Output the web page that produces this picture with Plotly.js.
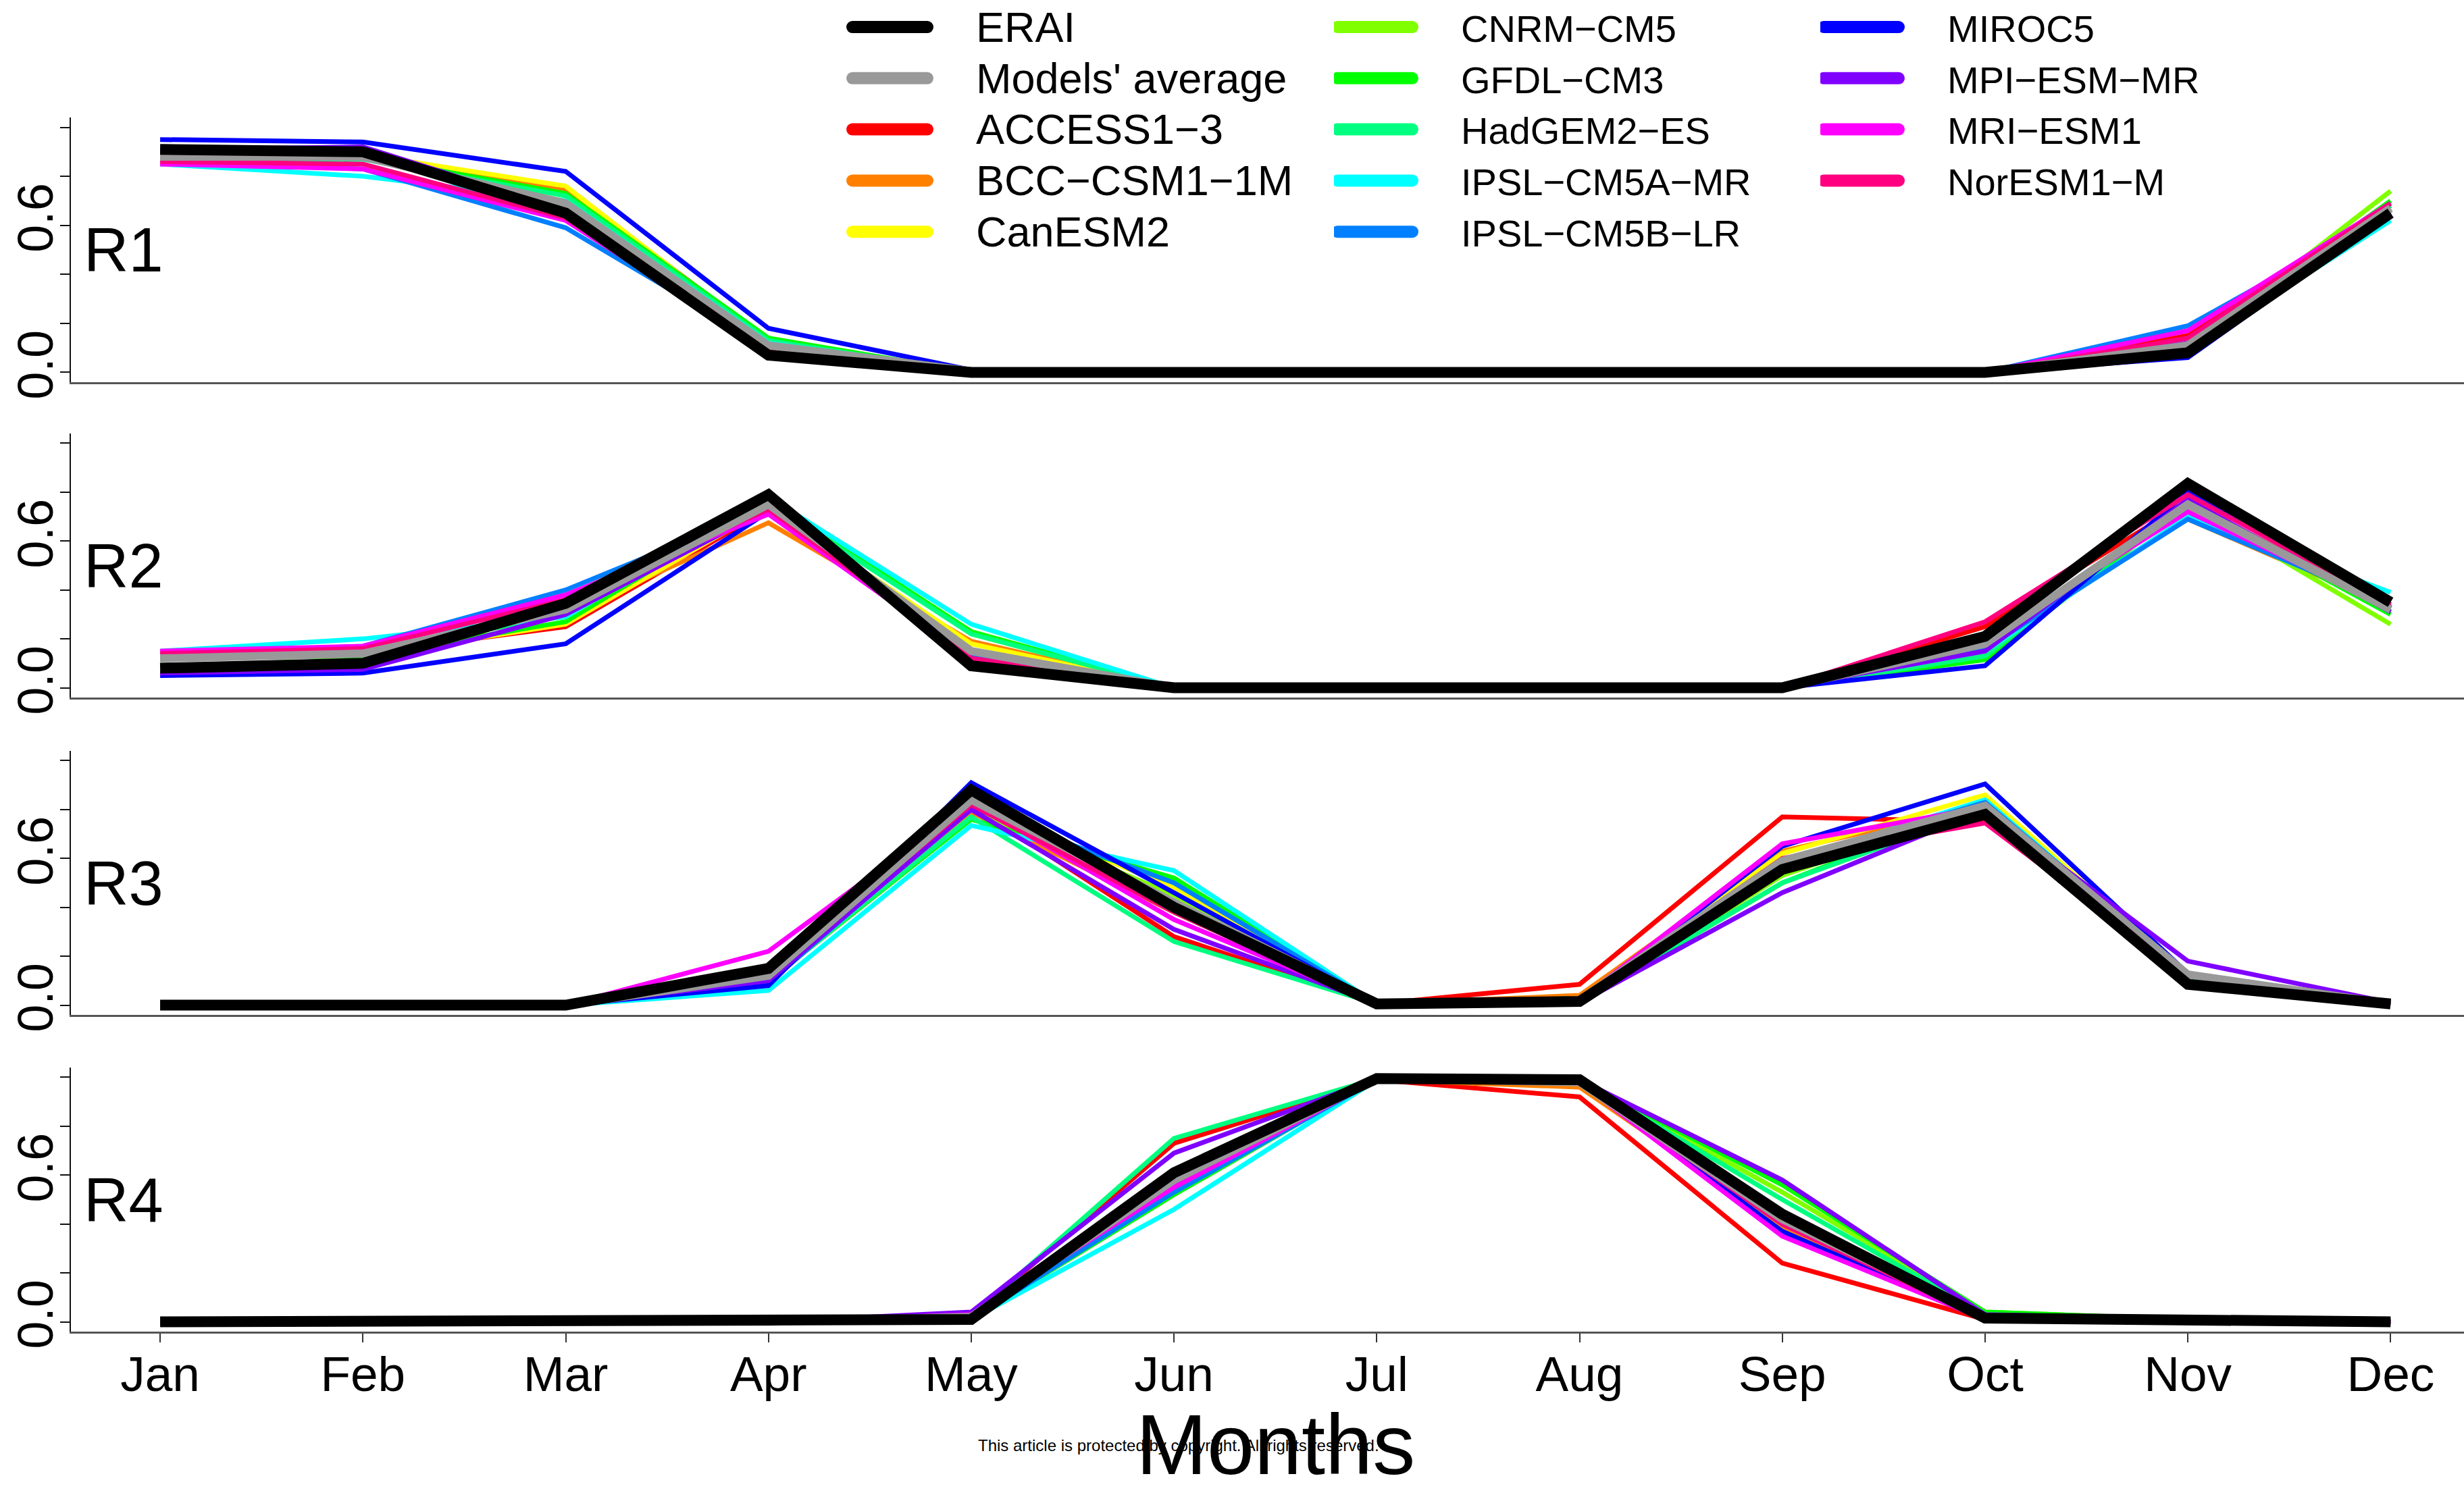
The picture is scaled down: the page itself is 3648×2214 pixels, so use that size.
<!DOCTYPE html>
<html>
<head>
<meta charset="utf-8">
<script src="https://cdn.plot.ly/plotly-3.0.1.min.js"></script>
<style>
html,body{margin:0;padding:0;background:#fff;}
#chart{width:3648px;height:2214px;}
.legendlines path{stroke-width:18px !important;stroke-linecap:round !important;stroke-dasharray:111px 3000px !important;}
.legend .legendtext{font-size:63px !important;}
.legend .scrollbox, .legend g{clip-path:none !important;}
</style>
</head>
<body>
<div id="chart"></div>
<script>
// ---------------- DATA ----------------
const months = ['Jan','Feb','Mar','Apr','May','Jun','Jul','Aug','Sep','Oct','Nov','Dec'];
const regionLabels = ['R1','R2','R3','R4'];
const seriesNames = ['ERAI',"Models' average",'ACCESS1\u22123','BCC\u2212CSM1\u22121M','CanESM2',
  'CNRM\u2212CM5','GFDL\u2212CM3','HadGEM2\u2212ES','IPSL\u2212CM5A\u2212MR','IPSL\u2212CM5B\u2212LR',
  'MIROC5','MPI\u2212ESM\u2212MR','MRI\u2212ESM1','NorESM1\u2212M'];
const seriesColors = ['#000000','#999999','#FF0000','#FF8000','#FFFF00','#80FF00','#00FF00',
  '#00FF80','#00FFFF','#0080FF','#0000FF','#8000FF','#FF00FF','#FF0080'];
const yTickVals = [0,0.2,0.4,0.6,0.8,1.0];
const yTickText = ['0.0','','','0.6','',''];

// rows follow seriesNames order
const R1 = [
  [0.91,0.90,0.65,0.07,0,0,0,0,0,0,0.08,0.65],        // ERAI
  [0.88,0.88,0.69,0.11,0.005,0,0,0,0,0,0.11,0.67],    // Models' average
  [0.87,0.88,0.75,0.13,0,0,0,0,0,0,0.15,0.68],        // ACCESS1-3
  [0.88,0.89,0.74,0.12,0,0,0,0,0,0,0.12,0.67],        // BCC-CSM1-1M
  [0.88,0.89,0.76,0.12,0,0,0,0,0,0,0.11,0.67],        // CanESM2
  [0.87,0.88,0.72,0.12,0,0,0,0,0,0,0.10,0.74],        // CNRM-CM5
  [0.87,0.88,0.73,0.14,0,0,0,0,0,0,0.11,0.70],        // GFDL-CM3
  [0.87,0.87,0.72,0.13,0,0,0,0,0,0,0.10,0.68],        // HadGEM2-ES
  [0.85,0.80,0.70,0.12,0,0,0,0,0,0,0.09,0.62],        // IPSL-CM5A-MR
  [0.86,0.83,0.59,0.10,0,0,0,0,0,0,0.19,0.65],        // IPSL-CM5B-LR
  [0.95,0.94,0.82,0.18,0.01,0,0,0,0,0,0.06,0.65],     // MIROC5
  [0.91,0.92,0.66,0.10,0,0,0,0,0,0,0.12,0.66],        // MPI-ESM-MR
  [0.85,0.83,0.62,0.09,0,0,0,0,0,0,0.17,0.69],        // MRI-ESM1
  [0.86,0.85,0.63,0.09,0,0,0,0,0,0,0.14,0.69]         // NorESM1-M
];
const R2 = [
  [0.08,0.10,0.345,0.79,0.09,0,0,0,0,0.21,0.835,0.35],
  [0.12,0.14,0.32,0.75,0.15,0,0,0,0,0.18,0.75,0.32],
  [0.13,0.14,0.25,0.73,0.14,0,0,0,0,0.25,0.76,0.33],
  [0.13,0.14,0.30,0.675,0.19,0,0,0,0,0.18,0.69,0.33],
  [0.12,0.13,0.26,0.74,0.18,0,0,0,0,0.17,0.74,0.32],
  [0.12,0.13,0.33,0.78,0.22,0,0,0,0,0.14,0.75,0.26],
  [0.12,0.13,0.27,0.77,0.23,0,0,0,0,0.115,0.75,0.30],
  [0.13,0.14,0.30,0.76,0.22,0,0,0,0,0.13,0.76,0.31],
  [0.15,0.20,0.29,0.78,0.26,0,0,0,0,0.15,0.70,0.39],
  [0.14,0.17,0.40,0.74,0.13,0,0,0,0,0.16,0.69,0.34],
  [0.05,0.06,0.18,0.72,0.12,0,0,0,0,0.09,0.80,0.33],
  [0.06,0.075,0.30,0.73,0.11,0,0,0,0,0.15,0.77,0.31],
  [0.15,0.17,0.38,0.71,0.12,0,0,0,0,0.20,0.72,0.33],
  [0.14,0.16,0.36,0.73,0.12,0,0,0,0,0.27,0.79,0.34]
];
const R3 = [
  [0,0,0,0.15,0.88,0.40,0.005,0.015,0.555,0.78,0.085,0.005],
  [0,0,0,0.12,0.84,0.42,0.005,0.02,0.59,0.815,0.125,0.005],
  [0,0,0,0.12,0.82,0.28,0.005,0.085,0.77,0.75,0.12,0.005],
  [0,0,0,0.12,0.79,0.38,0.005,0.04,0.63,0.82,0.12,0.005],
  [0,0,0,0.11,0.82,0.48,0.005,0.02,0.62,0.86,0.12,0.005],
  [0,0,0,0.11,0.80,0.45,0.005,0.01,0.53,0.82,0.12,0.005],
  [0,0,0,0.10,0.76,0.52,0.005,0.01,0.50,0.82,0.11,0.005],
  [0,0,0,0.10,0.77,0.26,0.005,0.01,0.50,0.80,0.11,0.005],
  [0,0,0,0.06,0.735,0.55,0.005,0.01,0.58,0.84,0.12,0.005],
  [0,0,0,0.09,0.81,0.50,0.005,0.01,0.58,0.83,0.13,0.005],
  [0,0,0,0.08,0.91,0.46,0.005,0.01,0.65,0.905,0.13,0.005],
  [0,0,0,0.10,0.80,0.31,0.005,0.01,0.46,0.80,0.18,0.01],
  [0,0,0,0.22,0.83,0.35,0.005,0.02,0.66,0.81,0.12,0.005],
  [0,0,0,0.13,0.82,0.38,0.005,0.02,0.60,0.745,0.12,0.005]
];
const R4 = [
  [0,0,0,0,0.01,0.61,0.995,0.99,0.44,0.015,0.005,0],
  [0,0,0,0,0.02,0.58,0.995,0.98,0.42,0.02,0.005,0],
  [0,0,0,0,0.02,0.73,0.99,0.92,0.24,0.01,0,0],
  [0,0,0,0,0.02,0.58,0.99,0.96,0.39,0.01,0,0],
  [0,0,0,0,0.02,0.56,0.99,0.98,0.42,0.01,0,0],
  [0,0,0,0,0.02,0.54,0.995,0.99,0.53,0.04,0.01,0],
  [0,0,0,0,0.01,0.52,0.995,0.99,0.56,0.04,0.01,0],
  [0,0,0,0,0.02,0.75,0.995,0.99,0.50,0.03,0.01,0],
  [0,0,0,0,0.01,0.46,0.99,0.98,0.45,0.02,0,0],
  [0,0,0,0,0.01,0.53,0.99,0.98,0.40,0.02,0,0],
  [0,0,0,0,0.02,0.57,0.99,0.98,0.37,0.01,0,0],
  [0,0,0,0,0.04,0.69,0.995,0.99,0.58,0.03,0.01,0],
  [0,0,0,0,0.03,0.55,0.99,0.98,0.35,0.01,0,0],
  [0,0,0,0,0.02,0.58,0.99,0.98,0.40,0.01,0,0]
];
const regionData = [R1,R2,R3,R4];

// ---------------- LAYOUT / STYLE ----------------
const W = 3648, H = 2214;
const FONT = 'Liberation Sans, Arial, Helvetica, sans-serif';
const panelPx = [[174,566],[642,1033],[1112,1503],[1581,1972]]; // top,bottom of each plot area
const xDomain = [105/W, 1];
const xRange = [-0.44, 11.362];
function legendOf(s){ if(s<=4) return 'legend'; if(s<=9) return 'legend2'; return 'legend3'; }
function widthOf(s){ return s===0 ? 16 : (s===1 ? 12 : 7); }

const traces = [];
const drawOrder = [2,3,4,5,6,7,8,9,10,11,12,13,1,0]; // models, then average, then ERAI on top
regionData.forEach((rows, r) => {
  const xa = r===0 ? 'x' : 'x'+(r+1);
  const ya = r===0 ? 'y' : 'y'+(r+1);
  drawOrder.forEach(s => {
    traces.push({
      type:'scatter', mode:'lines',
      x: months, y: rows[s],
      xaxis: xa, yaxis: ya,
      name: seriesNames[s],
      legendgroup: seriesNames[s],
      legend: legendOf(s),
      legendrank: s+1,
      showlegend: r===0,
      line:{color: seriesColors[s], width: widthOf(s)},
      hoverinfo:'x+y+name'
    });
  });
});

const layout = {
  width: W, height: H,
  margin:{l:0,r:0,t:0,b:0,pad:0,autoexpand:false},
  paper_bgcolor:'#ffffff', plot_bgcolor:'#ffffff',
  font:{family: FONT, color:'#000'},
  showlegend:true,
  annotations:[],
  shapes:[]
};
const legendBase = {y:1.0013, yanchor:'top', xanchor:'left', bgcolor:'rgba(0,0,0,0)',
  font:{size:56, family:FONT, color:'#000'}, itemwidth:178, traceorder:'normal', tracegroupgap:0};
layout.legend = Object.assign({x:1257/W}, legendBase);
layout.legend2 = Object.assign({x:1975/W}, legendBase);
layout.legend3 = Object.assign({x:2695/W}, legendBase);

for(let r=0;r<4;r++){
  const sx = r===0 ? '' : String(r+1);
  const [top,bot] = panelPx[r];
  layout['xaxis'+sx] = {
    domain: xDomain, range: xRange, type:'category',
    anchor: 'y'+sx,
    showline:true, linecolor:'#555', linewidth:3, mirror:false,
    showgrid:false, zeroline:false,
    ticks: r===3 ? 'outside' : '', ticklen:13, tickwidth:2, tickcolor:'#333',
    showticklabels: r===3,
    ticklabelstandoff: -16,
    tickfont:{size:73, family:FONT, color:'#000'},
    fixedrange:true
  };
  layout['yaxis'+sx] = {
    domain:[1-bot/H, 1-top/H], range:[-0.04,1.04],
    anchor: 'x'+sx,
    showline:true, linecolor:'#111', linewidth:2,
    showgrid:false, zeroline:false,
    tickmode:'array', tickvals:yTickVals, ticktext:yTickText,
    ticks:'outside', ticklen:14, tickwidth:2, tickcolor:'#111',
    tickangle:-90,
    ticklabelstandoff: -19,
    tickfont:{size:74, family:FONT, color:'#000'},
    fixedrange:true
  };
  layout.annotations.push({
    text: regionLabels[r], xref:'x'+sx, yref:'y'+sx,
    x: -0.385, y: 0.5, xanchor:'left', yanchor:'middle',
    showarrow:false, font:{size:92, family:FONT, color:'#000'}
  });
}
layout.annotations.push({
  text:'Months', xref:'paper', yref:'paper', x:1888/W, y:1-2139/H,
  xanchor:'center', yanchor:'middle', showarrow:false,
  font:{size:126, family:FONT, color:'#000'}
});
layout.annotations.push({
  text:'This article is protected by copyright. All rights reserved.',
  xref:'paper', yref:'paper', x:1745/W, y:1-2140/H,
  xanchor:'center', yanchor:'middle', showarrow:false,
  font:{size:24, family:FONT, color:'#000'}
});

Plotly.newPlot('chart', traces, layout, {displayModeBar:false, staticPlot:true});
</script>
</body>
</html>
